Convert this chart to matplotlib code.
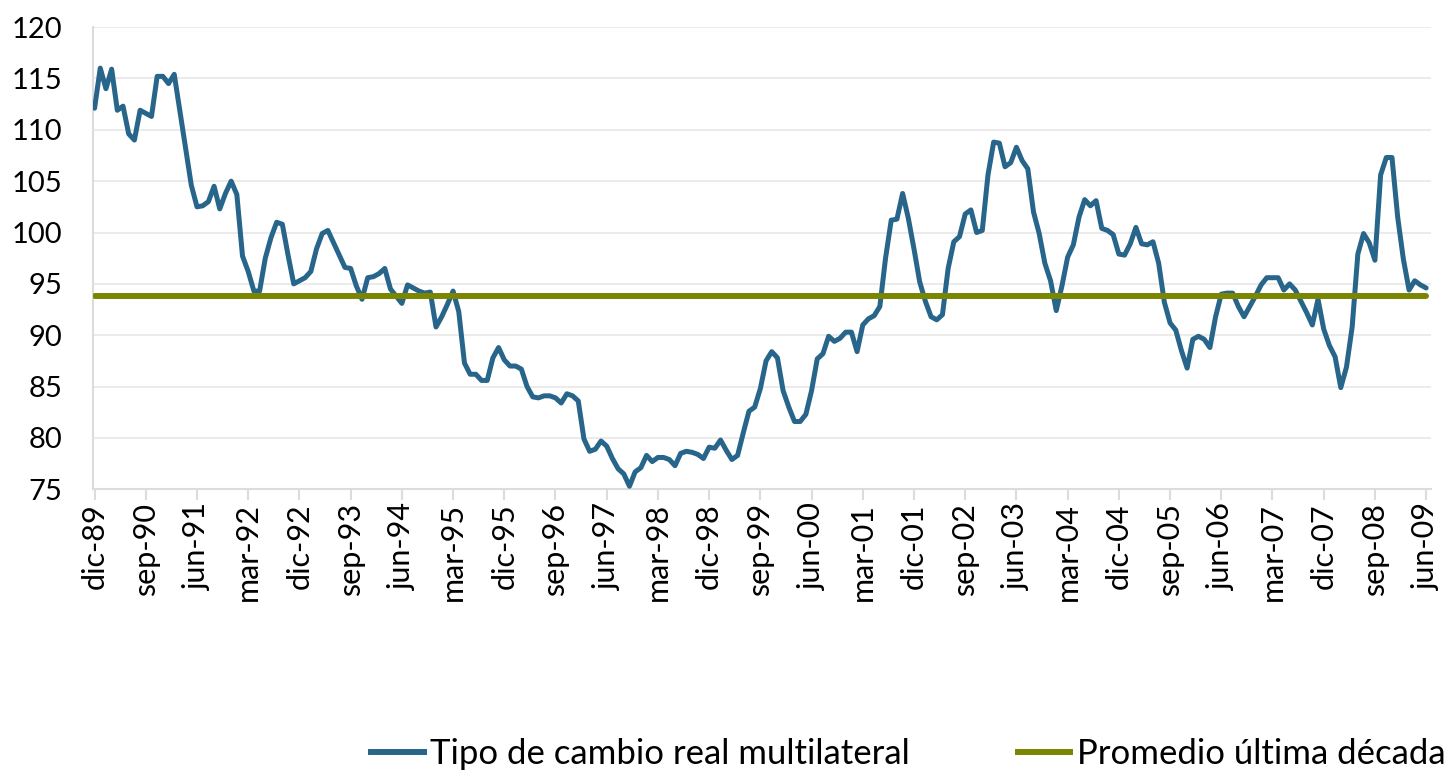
import numpy as np
import matplotlib.pyplot as plt
from matplotlib.lines import Line2D

# monthly values, dic-89 .. jun-09
tcrm = [
    112.1, 116.0, 114.0, 115.9, 111.9, 112.3, 109.6, 109.0, 111.9, 111.6,
    111.3, 115.2, 115.2, 114.5, 115.4, 111.8, 108.2, 104.6, 102.5, 102.6,
    103.0, 104.5, 102.3, 103.8, 105.0, 103.7, 97.7, 96.2, 94.3, 94.3,
    97.5, 99.5, 101.0, 100.8, 97.8, 95.0, 95.3, 95.6, 96.2, 98.4,
    99.9, 100.2, 99.0, 97.8, 96.6, 96.5, 94.8, 93.5, 95.6, 95.7,
    96.0, 96.5, 94.5, 93.8, 93.1, 94.9, 94.6, 94.3, 94.1, 94.2,
    90.8, 91.8, 93.0, 94.3, 92.3, 87.3, 86.2, 86.2, 85.6, 85.6,
    87.8, 88.8, 87.6, 87.0, 87.0, 86.7, 85.0, 84.0, 83.9, 84.1,
    84.1, 83.9, 83.4, 84.3, 84.1, 83.6, 79.9, 78.7, 78.9, 79.7,
    79.2, 78.0, 77.0, 76.5, 75.3, 76.7, 77.1, 78.3, 77.7, 78.1,
    78.1, 77.9, 77.3, 78.5, 78.7, 78.6, 78.4, 78.0, 79.1, 79.0,
    79.8, 78.8, 77.9, 78.3, 80.5, 82.6, 83.0, 84.8, 87.5, 88.4,
    87.8, 84.6, 83.0, 81.6, 81.6, 82.3, 84.6, 87.7, 88.2, 89.9,
    89.4, 89.7, 90.3, 90.3, 88.4, 91.0, 91.6, 91.9, 92.8, 97.5,
    101.2, 101.3, 103.8, 101.4, 98.4, 95.2, 93.3, 91.8, 91.5, 92.0,
    96.5, 99.1, 99.6, 101.8, 102.2, 100.0, 100.2, 105.6, 108.8, 108.7,
    106.4, 106.8, 108.3, 107.0, 106.2, 102.0, 99.9, 97.0, 95.3, 92.4,
    94.8, 97.6, 98.8, 101.5, 103.2, 102.6, 103.1, 100.4, 100.2, 99.8,
    97.9, 97.8, 98.9, 100.5, 98.9, 98.8, 99.1, 97.0, 93.2, 91.2,
    90.5, 88.5, 86.8, 89.6, 89.9, 89.6, 88.8, 91.8, 94.0, 94.1,
    94.1, 92.8, 91.8, 92.8, 93.8, 94.9, 95.6, 95.6, 95.6, 94.4,
    95.0, 94.4, 93.3, 92.2, 91.0, 93.5, 90.6, 89.0, 87.9, 84.9,
    86.9, 90.8, 97.9, 99.9, 99.0, 97.3, 105.6, 107.3, 107.3, 101.5,
    97.4, 94.4, 95.3, 94.9, 94.6,
]
promedio = 93.8

meses = ["ene", "feb", "mar", "abr", "may", "jun",
         "jul", "ago", "sep", "oct", "nov", "dic"]
labels = []
for k in range(len(tcrm)):
    m = (11 + k) % 12
    y = (1989 + (11 + k) // 12) % 100
    labels.append(f"{meses[m]}-{y:02d}")

plt.rcParams["font.family"] = ["Lato", "DejaVu Sans"]

fig = plt.figure(figsize=(14.51, 7.73), dpi=100)
ax = fig.add_axes([0.064, 0.367, 0.922, 0.598])

x = np.arange(len(tcrm))
ax.plot(x, tcrm, color="#28658a", lw=3.6, solid_joinstyle="round",
        solid_capstyle="round", zorder=3)
ax.plot(x, [promedio] * len(x), color="#7b8600", lw=4.3,
        solid_capstyle="round", zorder=4)

ax.set_ylim(75, 120)
ax.set_yticks(range(75, 121, 5))
ax.set_xlim(-0.3, len(tcrm) - 0.2)
tick_pos = x[::9]
ax.set_xticks(tick_pos)
ax.set_xticklabels([labels[i] for i in tick_pos], rotation=90)

ax.grid(axis="y", color="#e6e6e6", lw=1.1)
ax.set_axisbelow(True)
for s in ["top", "right"]:
    ax.spines[s].set_visible(False)
for s in ["left", "bottom"]:
    ax.spines[s].set_color("#dcdcdc")
    ax.spines[s].set_linewidth(1.5)
ax.tick_params(axis="y", length=0, labelsize=21, pad=22)
ax.tick_params(axis="x", length=8, color="#dcdcdc", width=1.5,
               labelsize=22, pad=2)
for t in ax.get_yticklabels():
    t.set_horizontalalignment("right")

handles = [Line2D([], [], color="#28658a", lw=4.3),
           Line2D([], [], color="#7b8600", lw=4.3)]
fig.legend(handles, ["Tipo de cambio real multilateral", "Promedio última década"],
           loc="center left", bbox_to_anchor=(0.256, 0.025), ncol=2,
           frameon=False, fontsize=25, handlelength=1.5, handletextpad=0.2,
           columnspacing=3.1, borderpad=0, borderaxespad=0)

fig.savefig("out.png", dpi=100)
